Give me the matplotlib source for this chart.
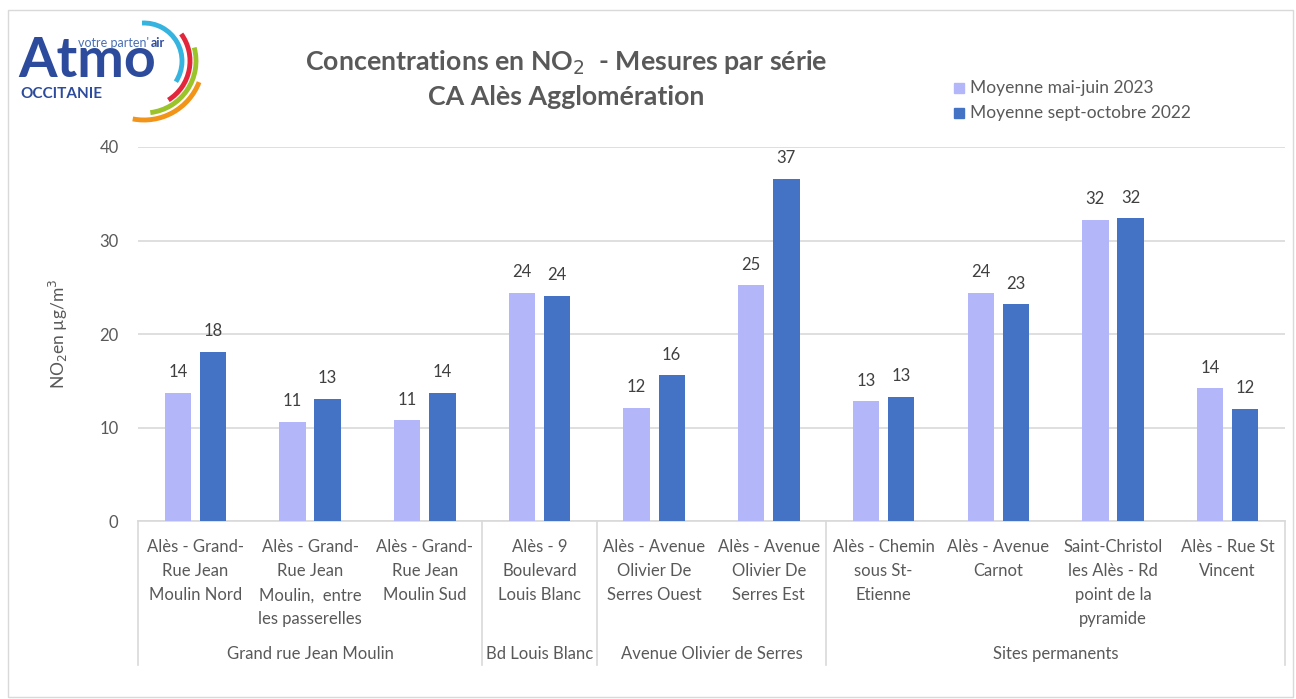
import matplotlib
matplotlib.use("Agg")
import matplotlib.pyplot as plt
from matplotlib.patches import Arc, Rectangle
import matplotlib.transforms as mtransforms
import numpy as np

plt.rcParams['font.family'] = ['Lato', 'DejaVu Sans']

# data
sites = [
    "Alès - Grand-\nRue Jean\nMoulin Nord",
    "Alès - Grand-\nRue Jean\nMoulin,  entre\nles passerelles",
    "Alès - Grand-\nRue Jean\nMoulin Sud",
    "Alès - 9\nBoulevard\nLouis Blanc",
    "Alès - Avenue\nOlivier De\nSerres Ouest",
    "Alès - Avenue\nOlivier De\nSerres Est",
    "Alès - Chemin\nsous St-\nEtienne",
    "Alès - Avenue\nCarnot",
    "Saint-Christol\nles Alès - Rd\npoint de la\npyramide",
    "Alès - Rue St\nVincent",
]
groups = ["Grand rue Jean Moulin", "Bd Louis Blanc", "Avenue Olivier de Serres", "Sites permanents"]
group_sizes = [3, 1, 2, 4]
mai_juin_2023 = [13.7, 10.6, 10.8, 24.4, 12.1, 25.2, 12.8, 24.4, 32.2, 14.2]
sept_oct_2022 = [18.1, 13.1, 13.7, 24.1, 15.6, 36.6, 13.3, 23.2, 32.4, 12.0]
series_names = ["Moyenne mai-juin 2023", "Moyenne sept-octobre 2022"]

light = "#b4b6fa"
dark = "#4472c4"
grey_txt = "#595959"
grid_col = "#d9d9d9"

fig = plt.figure(figsize=(12.96, 6.99), dpi=100)
ax = fig.add_axes([0.1065, 0.2546, 0.885, 0.5351])

x = np.arange(len(sites))
w = 0.23
b1 = ax.bar(x - 0.153, mai_juin_2023, w, color=light, zorder=3)
b2 = ax.bar(x + 0.153, sept_oct_2022, w, color=dark, zorder=3)
for bars, vals in ((b1, mai_juin_2023), (b2, sept_oct_2022)):
    for r, v in zip(bars, vals):
        ax.annotate(f"{v:.0f}", (r.get_x() + r.get_width() / 2, v),
                    xytext=(0, 9), textcoords="offset points",
                    ha="center", va="bottom", fontsize=12, color="#404040")

ax.set_xlim(-0.5, len(sites) - 0.5)
ax.set_ylim(0, 40)
ax.set_yticks([0, 10, 20, 30, 40])
ax.yaxis.grid(True, color=grid_col, lw=1.2, zorder=0)
ax.tick_params(axis="y", length=0, labelsize=12, labelcolor=grey_txt, pad=14)
for s in ("top", "right", "left"):
    ax.spines[s].set_visible(False)
ax.spines["bottom"].set_color(grid_col)
ax.spines["bottom"].set_linewidth(1.2)

ax.set_xticks(x)
ax.set_xticklabels(sites, fontsize=12, color=grey_txt, linespacing=1.62, va="top")
ax.tick_params(axis="x", length=0, pad=13)

ax.set_ylabel("NO$_2$en µg/m$^3$", fontsize=12.5, color=grey_txt, labelpad=21)

# multi-level category axis: separators and group labels
trans = mtransforms.blended_transform_factory(ax.transData, ax.transAxes)
edges = np.concatenate([[0], np.cumsum(group_sizes)]) - 0.5
for e in edges:
    ax.plot([e, e], [0, -0.385], transform=trans, color=grid_col, lw=1.2, clip_on=False)
for g, lo, hi in zip(groups, edges[:-1], edges[1:]):
    ax.text((lo + hi) / 2, -0.355, g, transform=trans, ha="center", va="center",
            fontsize=12, color=grey_txt)

# title
fig.text(0.437, 0.910, "Concentrations en NO$_2$  - Mesures par série", ha="center", va="center",
         fontsize=19.3, fontweight="bold", color=grey_txt)
fig.text(0.437, 0.861, "CA Alès Agglomération", ha="center", va="center",
         fontsize=19.3, fontweight="bold", color=grey_txt)

# legend
for i, (name, c) in enumerate(zip(series_names, [light, dark])):
    ypx = 88 + 25 * i
    fig.patches.append(Rectangle((954 / 1296, 1 - (ypx + 5) / 699), 10 / 1296, 10 / 699,
                                 transform=fig.transFigure, color=c))
    fig.text(970 / 1296, 1 - ypx / 699, name, ha="left", va="center", fontsize=12.5, color=grey_txt)

# outer chart border
fig.patches.append(Rectangle((8 / 1296, 2 / 699), 1285 / 1296, 687 / 699, transform=fig.transFigure,
                             fill=False, edgecolor=grid_col, lw=1))

# logo (coordinates in image pixels, y pointing down)
lax = fig.add_axes([8 / 1296, 1 - 130 / 699, 202 / 1296, 120 / 699])
lax.set_xlim(8, 210)
lax.set_ylim(130, 10)
lax.set_facecolor("white")
lax.set_xticks([])
lax.set_yticks([])
for s in lax.spines.values():
    s.set_visible(False)
lax.text(18, 77, "Atmo", fontsize=40, fontweight="bold", color="#2d4b9c", va="baseline", ha="left")
lax.text(20, 94, "OCCITANIE", fontsize=11, fontweight="bold", color="#2d4b9c", va="center", ha="left")
t_votre = lax.text(78, 43, "votre parten'", fontsize=9, color="#4a6fb5", va="center", ha="left")
lax.annotate("air", xy=(1, 0.5), xycoords=t_votre, xytext=(1, 0), textcoords="offset points",
             fontsize=9, fontweight="bold", color="#2d4b9c", va="center", ha="left")
# arcs: (radius, start angle, end angle) with angles counter-clockwise, y up
for r, a1, a2, c in [(38, -33, 93, "#36b4e0"), (46, -58, 36, "#e3263b"),
                     (52, -83, 15, "#9bc42b"), (59, -101, -21, "#f29418")]:
    lax.add_patch(Arc((144, 61), 2 * r, 2 * r, theta1=-a2, theta2=-a1, color=c, lw=3.5))

fig.savefig("out.png", dpi=100)
